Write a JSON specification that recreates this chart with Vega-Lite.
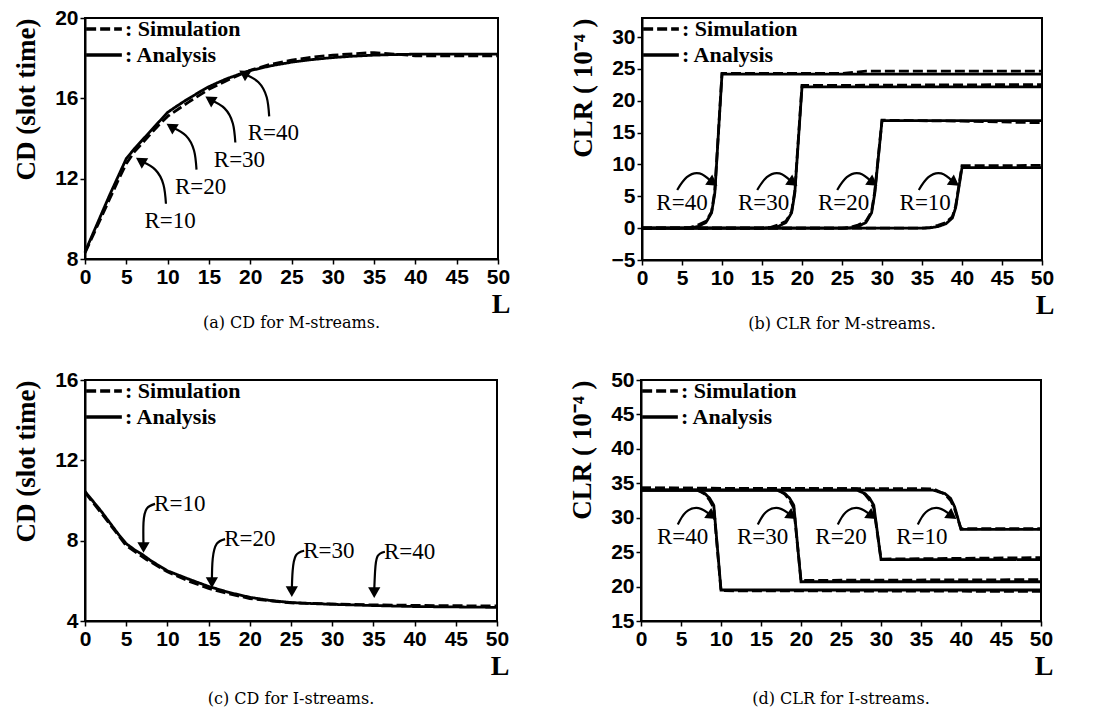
{
  "$schema": "https://vega.github.io/schema/vega-lite/v6.json",
  "background": "white",
  "padding": {"left": 11, "top": 6, "right": 10, "bottom": 2},
  "config": {
    "view": {"stroke": "black", "strokeWidth": 2},
    "axis": {"grid": false, "domainColor": "black", "domainWidth": 2, "tickColor": "black", "tickWidth": 1.5, "tickSize": 5, "labelFont": "Liberation Sans", "labelFontWeight": "bold", "labelFontSize": 21, "labelColor": "black", "labelPadding": 2, "titleColor": "black", "titleFont": "Liberation Serif", "titleFontWeight": "bold"},
    "axisX": {"labelFlush": false, "titleFontSize": 28, "titleBaseline": "alphabetic", "titleAlign": "right", "titleY": 53},
    "axisY": {"titleFontSize": 27, "titleAnchor": "end", "titlePadding": 14},
    "title": {"orient": "bottom", "font": "DejaVu Serif", "fontSize": 16, "fontWeight": "normal", "color": "black", "anchor": "middle"},
    "legend": {"orient": "top-left", "offset": -4, "padding": 0, "labelFont": "Liberation Serif", "labelFontSize": 22, "labelFontWeight": "bold", "labelColor": "black", "symbolType": "M-1.35,0H1.35", "symbolStrokeColor": "black", "symbolStrokeWidth": 3.5, "symbolSize": 700, "symbolOffset": 8, "labelOffset": 6, "rowPadding": -3}
  },
  "datasets": {
    "a_lines": [
      {"L": 0, "v": 8.35, "type": "Analysis"}, {"L": 1, "v": 9.3, "type": "Analysis"}, {"L": 2, "v": 10.25, "type": "Analysis"}, {"L": 3, "v": 11.2, "type": "Analysis"}, {"L": 4, "v": 12.1, "type": "Analysis"}, {"L": 5, "v": 13.0, "type": "Analysis"}, {"L": 6, "v": 13.5, "type": "Analysis"}, {"L": 7, "v": 13.95, "type": "Analysis"}, {"L": 8, "v": 14.4, "type": "Analysis"}, {"L": 9, "v": 14.85, "type": "Analysis"}, {"L": 10, "v": 15.3, "type": "Analysis"}, {"L": 11, "v": 15.58, "type": "Analysis"}, {"L": 12, "v": 15.85, "type": "Analysis"}, {"L": 13, "v": 16.1, "type": "Analysis"}, {"L": 14, "v": 16.35, "type": "Analysis"}, {"L": 15, "v": 16.58, "type": "Analysis"}, {"L": 16, "v": 16.77, "type": "Analysis"}, {"L": 17, "v": 16.95, "type": "Analysis"}, {"L": 18, "v": 17.1, "type": "Analysis"}, {"L": 19, "v": 17.25, "type": "Analysis"}, {"L": 20, "v": 17.38, "type": "Analysis"}, {"L": 22.5, "v": 17.62, "type": "Analysis"}, {"L": 25, "v": 17.8, "type": "Analysis"}, {"L": 27.5, "v": 17.93, "type": "Analysis"}, {"L": 30, "v": 18.03, "type": "Analysis"}, {"L": 32.5, "v": 18.1, "type": "Analysis"}, {"L": 35, "v": 18.15, "type": "Analysis"}, {"L": 37.5, "v": 18.18, "type": "Analysis"}, {"L": 40, "v": 18.2, "type": "Analysis"}, {"L": 45, "v": 18.2, "type": "Analysis"}, {"L": 50, "v": 18.2, "type": "Analysis"},
      {"L": 0, "v": 8.3, "type": "Simulation"}, {"L": 1, "v": 9.2, "type": "Simulation"}, {"L": 2, "v": 10.1, "type": "Simulation"}, {"L": 3, "v": 11.0, "type": "Simulation"}, {"L": 4, "v": 11.9, "type": "Simulation"}, {"L": 5, "v": 12.75, "type": "Simulation"}, {"L": 6, "v": 13.35, "type": "Simulation"}, {"L": 7, "v": 13.8, "type": "Simulation"}, {"L": 8, "v": 14.25, "type": "Simulation"}, {"L": 9, "v": 14.7, "type": "Simulation"}, {"L": 10, "v": 15.1, "type": "Simulation"}, {"L": 12.5, "v": 15.8, "type": "Simulation"}, {"L": 15, "v": 16.45, "type": "Simulation"}, {"L": 17.5, "v": 16.95, "type": "Simulation"}, {"L": 20, "v": 17.4, "type": "Simulation"}, {"L": 22.5, "v": 17.7, "type": "Simulation"}, {"L": 25, "v": 17.9, "type": "Simulation"}, {"L": 27.5, "v": 18.05, "type": "Simulation"}, {"L": 30, "v": 18.15, "type": "Simulation"}, {"L": 32.5, "v": 18.22, "type": "Simulation"}, {"L": 35, "v": 18.28, "type": "Simulation"}, {"L": 37.5, "v": 18.2, "type": "Simulation"}, {"L": 40, "v": 18.12, "type": "Simulation"}, {"L": 45, "v": 18.12, "type": "Simulation"}, {"L": 50, "v": 18.12, "type": "Simulation"}
    ],
    "a_labels": [
      {"L": 10.3, "v": 9.9, "label": "R=10"}, {"L": 14.0, "v": 11.6, "label": "R=20"}, {"L": 18.7, "v": 12.95, "label": "R=30"}, {"L": 22.8, "v": 14.25, "label": "R=40"}
    ],
    "a_arrows": [
      {"R": 10, "i": 0, "L": 9.8, "v": 10.75}, {"R": 10, "i": 1, "L": 9.5, "v": 11.7}, {"R": 10, "i": 2, "L": 8.5, "v": 12.45}, {"R": 10, "i": 3, "L": 6.9, "v": 12.85},
      {"R": 20, "i": 0, "L": 13.5, "v": 12.45}, {"R": 20, "i": 1, "L": 13.2, "v": 13.4}, {"R": 20, "i": 2, "L": 12.2, "v": 14.15}, {"R": 20, "i": 3, "L": 10.6, "v": 14.55},
      {"R": 30, "i": 0, "L": 18.2, "v": 13.8}, {"R": 30, "i": 1, "L": 17.9, "v": 14.75}, {"R": 30, "i": 2, "L": 16.9, "v": 15.5}, {"R": 30, "i": 3, "L": 15.3, "v": 15.9},
      {"R": 40, "i": 0, "L": 22.3, "v": 15.1}, {"R": 40, "i": 1, "L": 22.0, "v": 16.05}, {"R": 40, "i": 2, "L": 21.0, "v": 16.8}, {"R": 40, "i": 3, "L": 19.4, "v": 17.2}
    ],
    "b_lines": [
      {"R": 40, "type": "Analysis", "L": 0, "v": 0}, {"R": 40, "type": "Analysis", "L": 5, "v": 0}, {"R": 40, "type": "Analysis", "L": 6, "v": 0.05}, {"R": 40, "type": "Analysis", "L": 7, "v": 0.25}, {"R": 40, "type": "Analysis", "L": 8, "v": 0.9}, {"R": 40, "type": "Analysis", "L": 8.7, "v": 2.4}, {"R": 40, "type": "Analysis", "L": 9.1, "v": 5.5}, {"R": 40, "type": "Analysis", "L": 10, "v": 24.2}, {"R": 40, "type": "Analysis", "L": 50, "v": 24.2},
      {"R": 40, "type": "Simulation", "L": 0, "v": 0}, {"R": 40, "type": "Simulation", "L": 5, "v": 0}, {"R": 40, "type": "Simulation", "L": 6, "v": 0.1}, {"R": 40, "type": "Simulation", "L": 7, "v": 0.5}, {"R": 40, "type": "Simulation", "L": 8, "v": 1.1}, {"R": 40, "type": "Simulation", "L": 8.7, "v": 2.6}, {"R": 40, "type": "Simulation", "L": 9.1, "v": 5.8}, {"R": 40, "type": "Simulation", "L": 10, "v": 24.3}, {"R": 40, "type": "Simulation", "L": 25, "v": 24.3}, {"R": 40, "type": "Simulation", "L": 28, "v": 24.65}, {"R": 40, "type": "Simulation", "L": 50, "v": 24.65},
      {"R": 30, "type": "Analysis", "L": 0, "v": 0}, {"R": 30, "type": "Analysis", "L": 15, "v": 0}, {"R": 30, "type": "Analysis", "L": 16, "v": 0.05}, {"R": 30, "type": "Analysis", "L": 17, "v": 0.25}, {"R": 30, "type": "Analysis", "L": 18, "v": 0.9}, {"R": 30, "type": "Analysis", "L": 18.7, "v": 2.4}, {"R": 30, "type": "Analysis", "L": 19.1, "v": 5.5}, {"R": 30, "type": "Analysis", "L": 20, "v": 22.2}, {"R": 30, "type": "Analysis", "L": 50, "v": 22.2},
      {"R": 30, "type": "Simulation", "L": 0, "v": 0}, {"R": 30, "type": "Simulation", "L": 15, "v": 0}, {"R": 30, "type": "Simulation", "L": 16, "v": 0.1}, {"R": 30, "type": "Simulation", "L": 17, "v": 0.5}, {"R": 30, "type": "Simulation", "L": 18, "v": 1.1}, {"R": 30, "type": "Simulation", "L": 18.7, "v": 2.6}, {"R": 30, "type": "Simulation", "L": 19.1, "v": 5.8}, {"R": 30, "type": "Simulation", "L": 20, "v": 22.4}, {"R": 30, "type": "Simulation", "L": 50, "v": 22.55},
      {"R": 20, "type": "Analysis", "L": 0, "v": 0}, {"R": 20, "type": "Analysis", "L": 25, "v": 0}, {"R": 20, "type": "Analysis", "L": 26, "v": 0.05}, {"R": 20, "type": "Analysis", "L": 27, "v": 0.25}, {"R": 20, "type": "Analysis", "L": 28, "v": 0.9}, {"R": 20, "type": "Analysis", "L": 28.7, "v": 2.4}, {"R": 20, "type": "Analysis", "L": 29.1, "v": 5.5}, {"R": 20, "type": "Analysis", "L": 30, "v": 16.9}, {"R": 20, "type": "Analysis", "L": 50, "v": 16.9},
      {"R": 20, "type": "Simulation", "L": 0, "v": 0}, {"R": 20, "type": "Simulation", "L": 25, "v": 0}, {"R": 20, "type": "Simulation", "L": 26, "v": 0.1}, {"R": 20, "type": "Simulation", "L": 27, "v": 0.5}, {"R": 20, "type": "Simulation", "L": 28, "v": 1.1}, {"R": 20, "type": "Simulation", "L": 28.7, "v": 2.6}, {"R": 20, "type": "Simulation", "L": 29.1, "v": 5.8}, {"R": 20, "type": "Simulation", "L": 30, "v": 16.95}, {"R": 20, "type": "Simulation", "L": 40, "v": 16.8}, {"R": 20, "type": "Simulation", "L": 50, "v": 16.55},
      {"R": 10, "type": "Analysis", "L": 0, "v": 0}, {"R": 10, "type": "Analysis", "L": 35, "v": 0}, {"R": 10, "type": "Analysis", "L": 36, "v": 0.05}, {"R": 10, "type": "Analysis", "L": 37, "v": 0.25}, {"R": 10, "type": "Analysis", "L": 38, "v": 0.7}, {"R": 10, "type": "Analysis", "L": 38.8, "v": 1.6}, {"R": 10, "type": "Analysis", "L": 39.2, "v": 3.2}, {"R": 10, "type": "Analysis", "L": 40, "v": 9.5}, {"R": 10, "type": "Analysis", "L": 50, "v": 9.5},
      {"R": 10, "type": "Simulation", "L": 0, "v": 0}, {"R": 10, "type": "Simulation", "L": 35, "v": 0}, {"R": 10, "type": "Simulation", "L": 36, "v": 0.1}, {"R": 10, "type": "Simulation", "L": 37, "v": 0.45}, {"R": 10, "type": "Simulation", "L": 38, "v": 0.9}, {"R": 10, "type": "Simulation", "L": 38.8, "v": 1.8}, {"R": 10, "type": "Simulation", "L": 39.2, "v": 3.4}, {"R": 10, "type": "Simulation", "L": 40, "v": 9.8}, {"R": 10, "type": "Simulation", "L": 50, "v": 9.85}
    ],
    "b_labels": [
      {"L": 5.0, "v": 3.9, "label": "R=40"}, {"L": 15.2, "v": 3.9, "label": "R=30"}, {"L": 25.2, "v": 3.9, "label": "R=20"}, {"L": 35.4, "v": 3.9, "label": "R=10"}
    ],
    "b_arrows": [
      {"R": 40, "i": 0, "L": 4.4, "v": 6.0}, {"R": 40, "i": 1, "L": 5.6, "v": 8.0}, {"R": 40, "i": 2, "L": 7.2, "v": 8.6}, {"R": 40, "i": 3, "L": 8.7, "v": 7.3},
      {"R": 30, "i": 0, "L": 14.4, "v": 6.0}, {"R": 30, "i": 1, "L": 15.6, "v": 8.0}, {"R": 30, "i": 2, "L": 17.2, "v": 8.6}, {"R": 30, "i": 3, "L": 18.7, "v": 7.3},
      {"R": 20, "i": 0, "L": 24.4, "v": 6.0}, {"R": 20, "i": 1, "L": 25.6, "v": 8.0}, {"R": 20, "i": 2, "L": 27.2, "v": 8.6}, {"R": 20, "i": 3, "L": 28.7, "v": 7.3},
      {"R": 10, "i": 0, "L": 34.6, "v": 6.0}, {"R": 10, "i": 1, "L": 35.8, "v": 8.0}, {"R": 10, "i": 2, "L": 37.4, "v": 8.6}, {"R": 10, "i": 3, "L": 38.9, "v": 7.3}
    ],
    "c_lines": [
      {"L": 0, "v": 10.45, "type": "Analysis"}, {"L": 1, "v": 9.95, "type": "Analysis"}, {"L": 2, "v": 9.45, "type": "Analysis"}, {"L": 3, "v": 8.9, "type": "Analysis"}, {"L": 4, "v": 8.35, "type": "Analysis"}, {"L": 5, "v": 7.85, "type": "Analysis"}, {"L": 6, "v": 7.55, "type": "Analysis"}, {"L": 7, "v": 7.3, "type": "Analysis"}, {"L": 8, "v": 7.0, "type": "Analysis"}, {"L": 9, "v": 6.75, "type": "Analysis"}, {"L": 10, "v": 6.5, "type": "Analysis"}, {"L": 12.5, "v": 6.1, "type": "Analysis"}, {"L": 15, "v": 5.72, "type": "Analysis"}, {"L": 17.5, "v": 5.42, "type": "Analysis"}, {"L": 20, "v": 5.18, "type": "Analysis"}, {"L": 22.5, "v": 5.02, "type": "Analysis"}, {"L": 25, "v": 4.92, "type": "Analysis"}, {"L": 27.5, "v": 4.87, "type": "Analysis"}, {"L": 30, "v": 4.83, "type": "Analysis"}, {"L": 35, "v": 4.77, "type": "Analysis"}, {"L": 40, "v": 4.72, "type": "Analysis"}, {"L": 45, "v": 4.7, "type": "Analysis"}, {"L": 50, "v": 4.68, "type": "Analysis"},
      {"L": 0, "v": 10.4, "type": "Simulation"}, {"L": 2.5, "v": 9.1, "type": "Simulation"}, {"L": 5, "v": 7.75, "type": "Simulation"}, {"L": 7.5, "v": 7.05, "type": "Simulation"}, {"L": 10, "v": 6.45, "type": "Simulation"}, {"L": 12.5, "v": 6.0, "type": "Simulation"}, {"L": 15, "v": 5.62, "type": "Simulation"}, {"L": 17.5, "v": 5.35, "type": "Simulation"}, {"L": 20, "v": 5.12, "type": "Simulation"}, {"L": 25, "v": 4.9, "type": "Simulation"}, {"L": 30, "v": 4.85, "type": "Simulation"}, {"L": 35, "v": 4.8, "type": "Simulation"}, {"L": 40, "v": 4.78, "type": "Simulation"}, {"L": 45, "v": 4.76, "type": "Simulation"}, {"L": 50, "v": 4.75, "type": "Simulation"}
    ],
    "c_labels": [
      {"L": 11.5, "v": 9.83, "label": "R=10"}, {"L": 20.0, "v": 8.08, "label": "R=20"}, {"L": 29.6, "v": 7.5, "label": "R=30"}, {"L": 39.4, "v": 7.45, "label": "R=40"}
    ],
    "c_arrows": [
      {"R": 10, "i": 0, "L": 8.5, "v": 9.83}, {"R": 10, "i": 1, "L": 7.5, "v": 9.6}, {"R": 10, "i": 2, "L": 7.1, "v": 8.9}, {"R": 10, "i": 3, "L": 7.1, "v": 7.75},
      {"R": 20, "i": 0, "L": 17.0, "v": 8.08}, {"R": 20, "i": 1, "L": 16.0, "v": 7.85}, {"R": 20, "i": 2, "L": 15.5, "v": 7.1}, {"R": 20, "i": 3, "L": 15.4, "v": 6.0},
      {"R": 30, "i": 0, "L": 26.6, "v": 7.5}, {"R": 30, "i": 1, "L": 25.6, "v": 7.27}, {"R": 30, "i": 2, "L": 25.2, "v": 6.5}, {"R": 30, "i": 3, "L": 25.1, "v": 5.55},
      {"R": 40, "i": 0, "L": 36.4, "v": 7.45}, {"R": 40, "i": 1, "L": 35.5, "v": 7.22}, {"R": 40, "i": 2, "L": 35.2, "v": 6.45}, {"R": 40, "i": 3, "L": 35.1, "v": 5.5}
    ],
    "d_lines": [
      {"R": 40, "type": "Analysis", "L": 0, "v": 34.0}, {"R": 40, "type": "Analysis", "L": 7, "v": 34.0}, {"R": 40, "type": "Analysis", "L": 8, "v": 33.5}, {"R": 40, "type": "Analysis", "L": 8.6, "v": 32.8}, {"R": 40, "type": "Analysis", "L": 9.1, "v": 31.8}, {"R": 40, "type": "Analysis", "L": 10, "v": 19.5}, {"R": 40, "type": "Analysis", "L": 50, "v": 19.5},
      {"R": 40, "type": "Simulation", "L": 0, "v": 34.3}, {"R": 40, "type": "Simulation", "L": 7, "v": 34.2}, {"R": 40, "type": "Simulation", "L": 8, "v": 33.4}, {"R": 40, "type": "Simulation", "L": 8.6, "v": 32.5}, {"R": 40, "type": "Simulation", "L": 9.1, "v": 31.4}, {"R": 40, "type": "Simulation", "L": 10, "v": 19.4}, {"R": 40, "type": "Simulation", "L": 50, "v": 19.3},
      {"R": 30, "type": "Analysis", "L": 0, "v": 34.0}, {"R": 30, "type": "Analysis", "L": 17, "v": 34.0}, {"R": 30, "type": "Analysis", "L": 18, "v": 33.5}, {"R": 30, "type": "Analysis", "L": 18.6, "v": 32.8}, {"R": 30, "type": "Analysis", "L": 19.1, "v": 31.8}, {"R": 30, "type": "Analysis", "L": 20, "v": 20.7}, {"R": 30, "type": "Analysis", "L": 50, "v": 20.7},
      {"R": 30, "type": "Simulation", "L": 0, "v": 34.3}, {"R": 30, "type": "Simulation", "L": 17, "v": 34.2}, {"R": 30, "type": "Simulation", "L": 18, "v": 33.4}, {"R": 30, "type": "Simulation", "L": 18.6, "v": 32.5}, {"R": 30, "type": "Simulation", "L": 19.1, "v": 31.4}, {"R": 30, "type": "Simulation", "L": 20, "v": 20.9}, {"R": 30, "type": "Simulation", "L": 50, "v": 21.0},
      {"R": 20, "type": "Analysis", "L": 0, "v": 34.0}, {"R": 20, "type": "Analysis", "L": 27, "v": 34.0}, {"R": 20, "type": "Analysis", "L": 28, "v": 33.5}, {"R": 20, "type": "Analysis", "L": 28.6, "v": 32.8}, {"R": 20, "type": "Analysis", "L": 29.1, "v": 31.8}, {"R": 20, "type": "Analysis", "L": 30, "v": 23.9}, {"R": 20, "type": "Analysis", "L": 50, "v": 23.9},
      {"R": 20, "type": "Simulation", "L": 0, "v": 34.3}, {"R": 20, "type": "Simulation", "L": 27, "v": 34.2}, {"R": 20, "type": "Simulation", "L": 28, "v": 33.4}, {"R": 20, "type": "Simulation", "L": 28.6, "v": 32.5}, {"R": 20, "type": "Simulation", "L": 29.1, "v": 31.4}, {"R": 20, "type": "Simulation", "L": 30, "v": 24.0}, {"R": 20, "type": "Simulation", "L": 50, "v": 24.2},
      {"R": 10, "type": "Analysis", "L": 0, "v": 34.0}, {"R": 10, "type": "Analysis", "L": 36.5, "v": 34.0}, {"R": 10, "type": "Analysis", "L": 38, "v": 33.5}, {"R": 10, "type": "Analysis", "L": 38.7, "v": 32.8}, {"R": 10, "type": "Analysis", "L": 39.2, "v": 31.6}, {"R": 10, "type": "Analysis", "L": 40, "v": 28.3}, {"R": 10, "type": "Analysis", "L": 50, "v": 28.3},
      {"R": 10, "type": "Simulation", "L": 0, "v": 34.3}, {"R": 10, "type": "Simulation", "L": 36.5, "v": 34.2}, {"R": 10, "type": "Simulation", "L": 38, "v": 33.4}, {"R": 10, "type": "Simulation", "L": 38.7, "v": 32.5}, {"R": 10, "type": "Simulation", "L": 39.2, "v": 31.3}, {"R": 10, "type": "Simulation", "L": 40, "v": 28.4}, {"R": 10, "type": "Simulation", "L": 50, "v": 28.4}
    ],
    "d_labels": [
      {"L": 5.2, "v": 27.2, "label": "R=40"}, {"L": 15.2, "v": 27.2, "label": "R=30"}, {"L": 25.0, "v": 27.2, "label": "R=20"}, {"L": 35.1, "v": 27.2, "label": "R=10"}
    ],
    "d_arrows": [
      {"R": 40, "i": 0, "L": 4.6, "v": 29.0}, {"R": 40, "i": 1, "L": 5.6, "v": 30.8}, {"R": 40, "i": 2, "L": 7.2, "v": 31.4}, {"R": 40, "i": 3, "L": 8.7, "v": 30.4},
      {"R": 30, "i": 0, "L": 14.6, "v": 29.0}, {"R": 30, "i": 1, "L": 15.6, "v": 30.8}, {"R": 30, "i": 2, "L": 17.2, "v": 31.4}, {"R": 30, "i": 3, "L": 18.7, "v": 30.4},
      {"R": 20, "i": 0, "L": 24.6, "v": 29.0}, {"R": 20, "i": 1, "L": 25.6, "v": 30.8}, {"R": 20, "i": 2, "L": 27.2, "v": 31.4}, {"R": 20, "i": 3, "L": 28.7, "v": 30.4},
      {"R": 10, "i": 0, "L": 34.6, "v": 29.0}, {"R": 10, "i": 1, "L": 35.6, "v": 30.8}, {"R": 10, "i": 2, "L": 37.2, "v": 31.4}, {"R": 10, "i": 3, "L": 38.7, "v": 30.4}
    ]
  },
  "resolve": {"scale": {"strokeDash": "independent"}, "legend": {"strokeDash": "independent"}},
  "spacing": 35,
  "vconcat": [
    {
      "resolve": {"scale": {"strokeDash": "independent"}, "legend": {"strokeDash": "independent"}},
      "spacing": 57,
      "hconcat": [
        {
          "title": {"text": "(a) CD for M-streams.", "offset": -3},
          "width": 413, "height": 241,
          "encoding": {
            "x": {"field": "L", "type": "quantitative", "scale": {"domain": [0, 50], "nice": false}, "axis": {"values": [0,5,10,15,20,25,30,35,40,45,50], "title": "L", "titleX": 425}},
            "y": {"field": "v", "type": "quantitative", "scale": {"domain": [8, 20], "nice": false, "zero": false}, "axis": {"values": [8,12,16,20], "title": "CD (slot time)"}}
          },
          "layer": [
            {"data": {"name": "a_lines"}, "mark": {"type": "line", "color": "black", "strokeWidth": 2.8},
             "encoding": {"strokeDash": {"field": "type", "type": "nominal", "scale": {"domain": ["Simulation", "Analysis"], "range": [[10, 4], [1, 0]]}, "legend": {"title": null, "labelExpr": "': ' + datum.label"}}}},
            {"data": {"name": "a_arrows"}, "mark": {"type": "line", "color": "black", "strokeWidth": 2.2, "interpolate": "natural"},
             "encoding": {"detail": {"field": "R"}, "order": {"field": "i", "type": "quantitative"}}},
            {"data": {"name": "a_arrows"}, "transform": [{"filter": "datum.i == 3"}], "mark": {"type": "point", "shape": "triangle", "filled": true, "color": "black", "size": 150, "angle": -58, "opacity": 1}},
            {"data": {"name": "a_labels"}, "mark": {"type": "text", "font": "Liberation Serif", "fontSize": 23, "color": "black", "baseline": "middle"}, "encoding": {"text": {"field": "label"}}}
          ]
        },
        {
          "title": {"text": "(b) CLR for M-streams.", "offset": -3},
          "width": 400, "height": 242,
          "encoding": {
            "x": {"field": "L", "type": "quantitative", "scale": {"domain": [0, 50], "nice": false}, "axis": {"values": [0,5,10,15,20,25,30,35,40,45,50], "title": "L", "titleX": 412}},
            "y": {"field": "v", "type": "quantitative", "scale": {"domain": [-5, 33], "nice": false, "zero": false}, "axis": {"values": [-5,0,5,10,15,20,25,30], "title": "CLR ( 10⁻⁴ )"}}
          },
          "layer": [
            {"data": {"name": "b_lines"}, "mark": {"type": "line", "color": "black", "strokeWidth": 2.8},
             "encoding": {"detail": {"field": "R"}, "strokeDash": {"field": "type", "type": "nominal", "scale": {"domain": ["Simulation", "Analysis"], "range": [[10, 4], [1, 0]]}, "legend": {"title": null, "labelExpr": "': ' + datum.label"}}}},
            {"data": {"name": "b_arrows"}, "mark": {"type": "line", "color": "black", "strokeWidth": 2.2, "interpolate": "natural"},
             "encoding": {"detail": {"field": "R"}, "order": {"field": "i", "type": "quantitative"}}},
            {"data": {"name": "b_arrows"}, "transform": [{"filter": "datum.i == 3"}], "mark": {"type": "point", "shape": "triangle", "filled": true, "color": "black", "size": 150, "angle": 125, "opacity": 1}},
            {"data": {"name": "b_labels"}, "mark": {"type": "text", "font": "Liberation Serif", "fontSize": 23, "color": "black", "baseline": "middle"}, "encoding": {"text": {"field": "label"}}}
          ]
        }
      ]
    },
    {
      "resolve": {"scale": {"strokeDash": "independent"}, "legend": {"strokeDash": "independent"}},
      "spacing": 57,
      "hconcat": [
        {
          "title": {"text": "(c) CD for I-streams.", "offset": 11},
          "width": 412, "height": 241,
          "encoding": {
            "x": {"field": "L", "type": "quantitative", "scale": {"domain": [0, 50], "nice": false}, "axis": {"values": [0,5,10,15,20,25,30,35,40,45,50], "title": "L", "titleX": 424}},
            "y": {"field": "v", "type": "quantitative", "scale": {"domain": [4, 16], "nice": false, "zero": false}, "axis": {"values": [4,8,12,16], "title": "CD (slot time)"}}
          },
          "layer": [
            {"data": {"name": "c_lines"}, "mark": {"type": "line", "color": "black", "strokeWidth": 2.8},
             "encoding": {"strokeDash": {"field": "type", "type": "nominal", "scale": {"domain": ["Simulation", "Analysis"], "range": [[10, 4], [1, 0]]}, "legend": {"title": null, "labelExpr": "': ' + datum.label"}}}},
            {"data": {"name": "c_arrows"}, "mark": {"type": "line", "color": "black", "strokeWidth": 2.2, "interpolate": "natural"},
             "encoding": {"detail": {"field": "R"}, "order": {"field": "i", "type": "quantitative"}}},
            {"data": {"name": "c_arrows"}, "transform": [{"filter": "datum.i == 3"}], "mark": {"type": "point", "shape": "triangle", "filled": true, "color": "black", "size": 150, "angle": 180, "opacity": 1}},
            {"data": {"name": "c_labels"}, "mark": {"type": "text", "font": "Liberation Serif", "fontSize": 23, "color": "black", "baseline": "middle"}, "encoding": {"text": {"field": "label"}}}
          ]
        },
        {
          "title": {"text": "(d) CLR for I-streams.", "offset": 11},
          "width": 400, "height": 241,
          "encoding": {
            "x": {"field": "L", "type": "quantitative", "scale": {"domain": [0, 50], "nice": false}, "axis": {"values": [0,5,10,15,20,25,30,35,40,45,50], "title": "L", "titleX": 412}},
            "y": {"field": "v", "type": "quantitative", "scale": {"domain": [15, 50], "nice": false, "zero": false}, "axis": {"values": [15,20,25,30,35,40,45,50], "title": "CLR ( 10⁻⁴ )"}}
          },
          "layer": [
            {"data": {"name": "d_lines"}, "mark": {"type": "line", "color": "black", "strokeWidth": 2.8},
             "encoding": {"detail": {"field": "R"}, "strokeDash": {"field": "type", "type": "nominal", "scale": {"domain": ["Simulation", "Analysis"], "range": [[10, 4], [1, 0]]}, "legend": {"title": null, "labelExpr": "': ' + datum.label"}}}},
            {"data": {"name": "d_arrows"}, "mark": {"type": "line", "color": "black", "strokeWidth": 2.2, "interpolate": "natural"},
             "encoding": {"detail": {"field": "R"}, "order": {"field": "i", "type": "quantitative"}}},
            {"data": {"name": "d_arrows"}, "transform": [{"filter": "datum.i == 3"}], "mark": {"type": "point", "shape": "triangle", "filled": true, "color": "black", "size": 150, "angle": 125, "opacity": 1}},
            {"data": {"name": "d_labels"}, "mark": {"type": "text", "font": "Liberation Serif", "fontSize": 23, "color": "black", "baseline": "middle"}, "encoding": {"text": {"field": "label"}}}
          ]
        }
      ]
    }
  ]
}
